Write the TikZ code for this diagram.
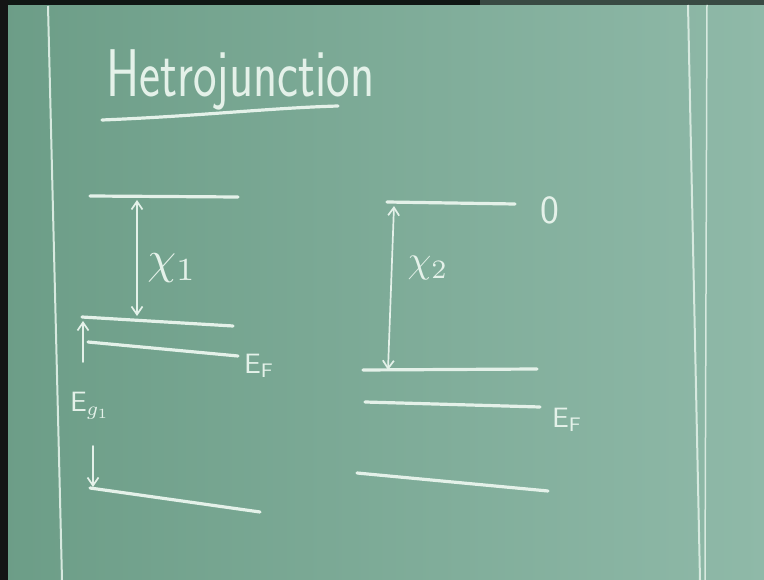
\documentclass[tikz,border=0pt]{standalone}
\usepackage{fontspec}
\usetikzlibrary{arrows.meta}
\definecolor{boardL}{HTML}{6C9D87}
\definecolor{boardR}{HTML}{8FB9A8}
\definecolor{chalk}{HTML}{E4F1E9}
\begin{document}
\begin{tikzpicture}[x=1pt,y=-1pt,
  chalkline/.style={draw=chalk,line width=3.2pt,line cap=round},
  frame/.style={draw=chalk!85!boardR,line width=2pt},
  dimarrow/.style={draw=chalk,line width=1.7pt,line cap=round,
     {Straight Barb[length=8pt,width=11pt,line width=1.7pt]}-{Straight Barb[length=8pt,width=11pt,line width=1.7pt]}},
  onearrow/.style={draw=chalk,line width=1.7pt,line cap=round,
     -{Straight Barb[length=8pt,width=11pt,line width=1.7pt]}},
  lbl/.style={text=chalk,inner sep=0pt}]
\useasboundingbox (0,0) rectangle (764,580);
\shade[left color=boardL,right color=boardR] (0,0) rectangle (764,580);
\fill[black!92] (0,0) rectangle (8,580);
\fill[black!85!boardL] (8,0) rectangle (480,5);
\fill[black!60!boardR] (480,0) rectangle (764,5);
% board frame lines
\draw[frame] (48,6) -- (62,580);
\draw[frame] (688,5) -- (700,580);
\draw[frame,line width=1.5pt] (707,5) -- (705,580);
% title
\node[lbl,anchor=base west,font=\sffamily\fontsize{50}{50}\selectfont] (title) at (106,97) {\scalebox{1}[1.35]{Hetrojunction}};
\coordinate (ul1) at (102,120);
\coordinate (ul2) at (338,106);
\draw[chalkline] (ul1) .. controls (200,116) and (270,108) .. (ul2);
% left material
\coordinate (L0a) at (90,196);  \coordinate (L0b) at (238,197);
\coordinate (Lca) at (82,317);  \coordinate (Lcb) at (233,326);
\coordinate (Lfa) at (88,342);  \coordinate (Lfb) at (238,356);
\coordinate (Lva) at (90,488);  \coordinate (Lvb) at (260,512);
\draw[chalkline] (L0a) -- (L0b);
\draw[chalkline] (Lca) -- (Lcb);
\draw[chalkline] (Lfa) -- (Lfb);
\draw[chalkline] (Lva) -- (Lvb);
\coordinate (chiT) at (137,200); \coordinate (chiB) at (137,316);
\draw[dimarrow] (chiT) -- (chiB);
\node[lbl] (chi1) at (172,268) {\scalebox{4.6}{$\chi_{1}$}};
\node[lbl,anchor=west] (EF1) at (244,366) {\scalebox{2.8}{$\mathsf{E}_{\mathsf{F}}$}};
\coordinate (egA) at (83,362); \coordinate (egB) at (83,321);
\draw[onearrow] (egA) -- (egB);
\node[lbl] (Eg1) at (90,406) {\scalebox{2.8}{$\mathsf{E}_{g_1}$}};
\coordinate (egC) at (93,446); \coordinate (egD) at (93,487);
\draw[onearrow] (egC) -- (egD);
% right material
\coordinate (R0a) at (387,202); \coordinate (R0b) at (515,204);
\coordinate (Rca) at (363,370); \coordinate (Rcb) at (537,369);
\coordinate (Rfa) at (365,402); \coordinate (Rfb) at (540,407);
\coordinate (Rva) at (357,473); \coordinate (Rvb) at (548,491);
\draw[chalkline] (R0a) -- (R0b);
\draw[chalkline] (Rca) -- (Rcb);
\draw[chalkline] (Rfa) -- (Rfb);
\draw[chalkline] (Rva) -- (Rvb);
\node[lbl,font=\sffamily\fontsize{40}{40}\selectfont] (zero) at (550,210) {0};
\coordinate (c2T) at (394,206); \coordinate (c2B) at (388,370);
\draw[dimarrow] (c2T) -- (c2B);
\node[lbl] (chi2) at (428,268) {\scalebox{3.8}{$\chi_{2}$}};
\node[lbl,anchor=west] (EF2) at (552,420) {\scalebox{2.8}{$\mathsf{E}_{\mathsf{F}}$}};
\end{tikzpicture}
\end{document}
